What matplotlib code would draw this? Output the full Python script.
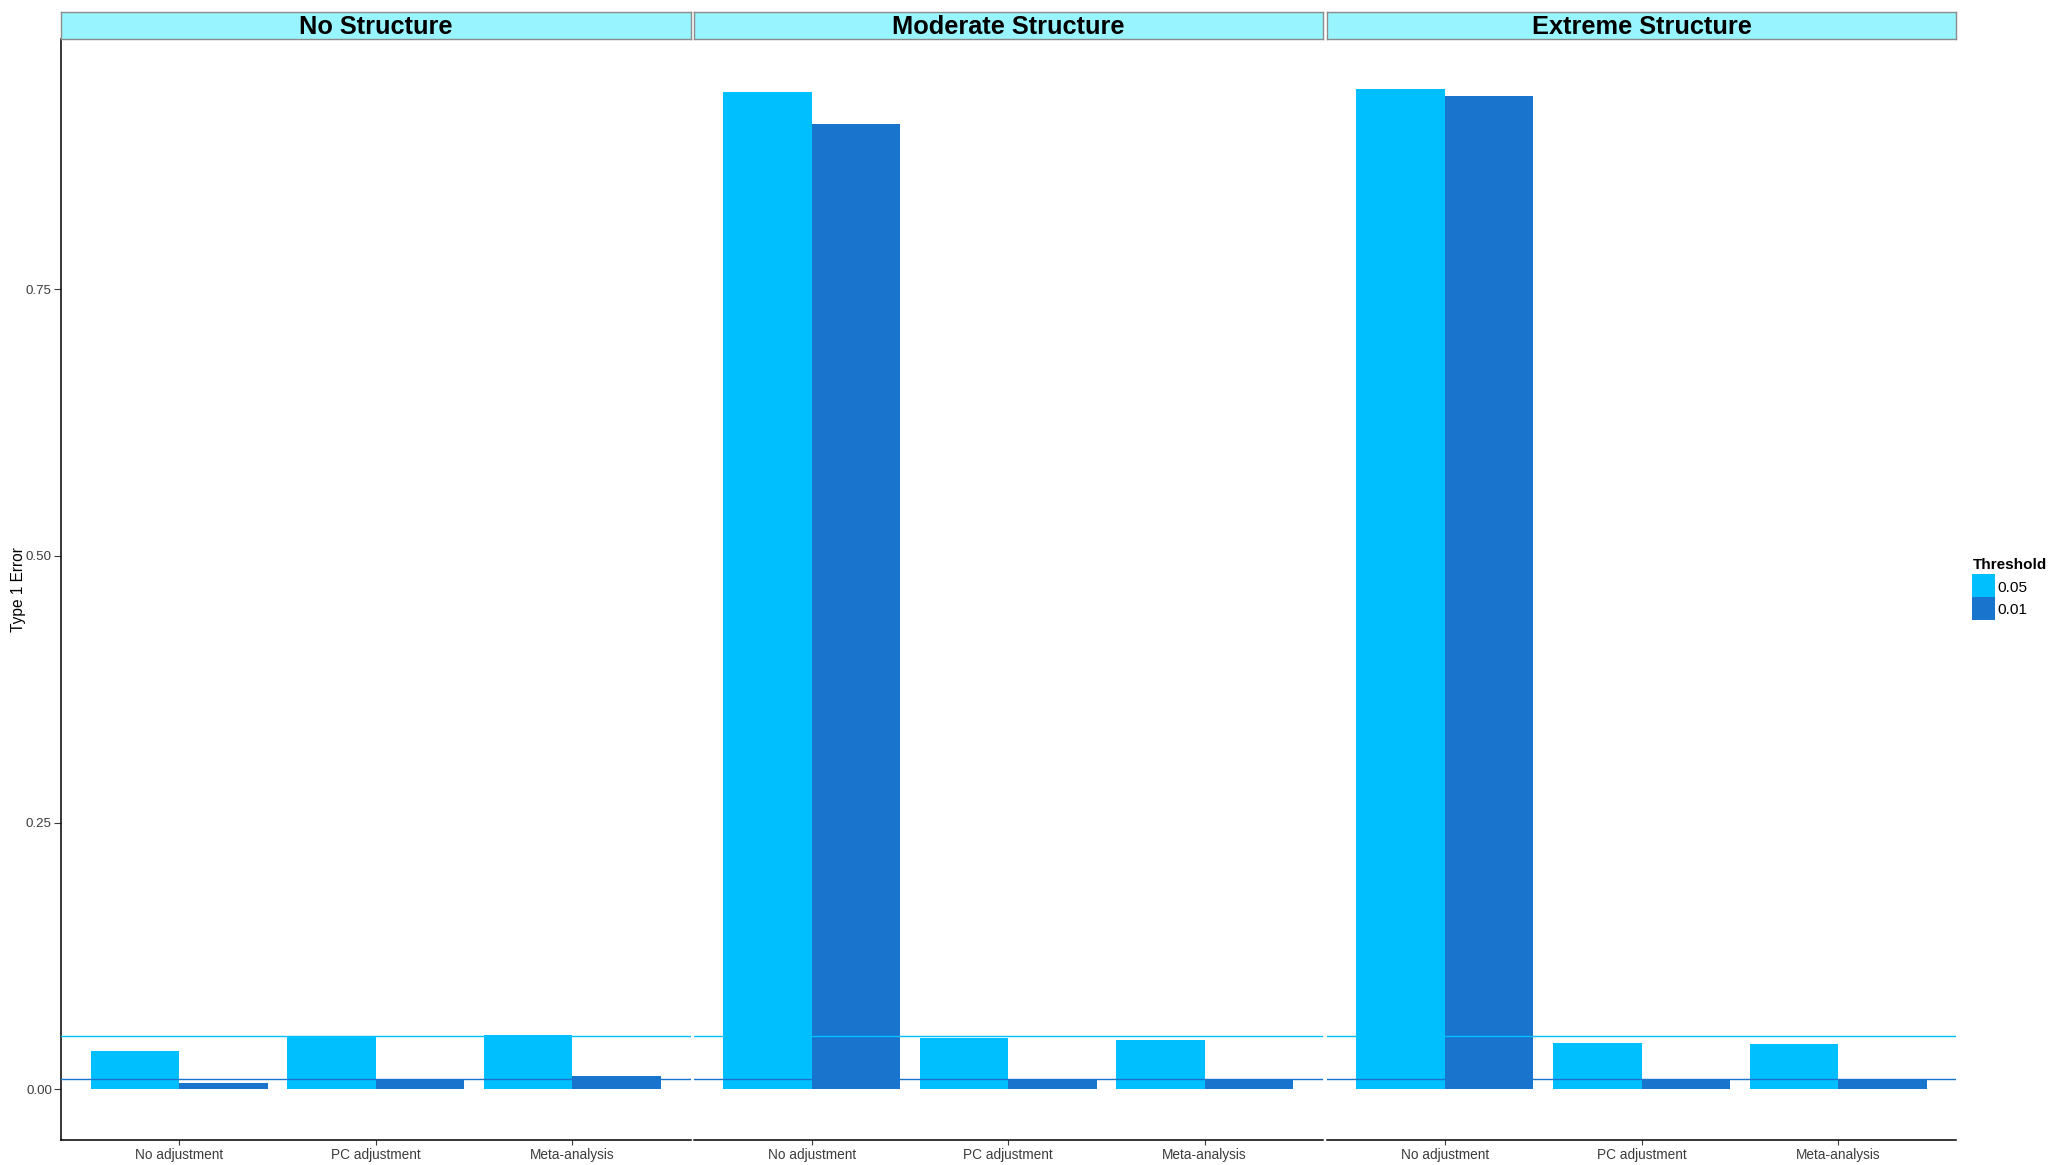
import matplotlib
matplotlib.use("Agg")
import matplotlib.pyplot as plt
from matplotlib.patches import Rectangle
import numpy as np

plt.rcParams['font.family'] = ['Liberation Sans', 'DejaVu Sans']

# ---- data -------------------------------------------------------------
structures = ["No Structure", "Moderate Structure", "Extreme Structure"]
methods = ["No adjustment", "PC adjustment", "Meta-analysis"]
thresholds = ["0.05", "0.01"]
threshold_values = [0.05, 0.01]

# Type 1 error per method, one list per structure scenario
err_005_none = [0.036, 0.049, 0.051]
err_001_none = [0.0063, 0.0098, 0.0122]
err_005_moderate = [0.935, 0.048, 0.046]
err_001_moderate = [0.905, 0.0095, 0.0095]
err_005_extreme = [0.938, 0.044, 0.043]
err_001_extreme = [0.931, 0.0084, 0.0084]

panel_data = [
    (err_005_none, err_001_none),
    (err_005_moderate, err_001_moderate),
    (err_005_extreme, err_001_extreme),
]

y_ticks = [0.0, 0.25, 0.50, 0.75]
y_tick_labels = ["0.00", "0.25", "0.50", "0.75"]

# ---- style ------------------------------------------------------------
colors = ["#00BFFF", "#1874CD"]
strip_fill = "#98F5FF"
text_grey = "#3C3C3C"

W, H = 2053, 1165
fig = plt.figure(figsize=(W / 100, H / 100), dpi=100)

panel_x = [(61, 690.5), (694, 1322.5), (1327, 1956)]
top_px, bottom_px = 38.5, 1139.5
strip_top = 12

all_vals = [v for pair in panel_data for series in pair for v in series]
ymax = max(all_vals)
ylim = (-0.05 * ymax, 1.05 * ymax)

bar_w = 0.45
x = np.arange(1, len(methods) + 1)

for i, (title, (x0, x1)) in enumerate(zip(structures, panel_x)):
    ax = fig.add_axes([x0 / W, 1 - bottom_px / H, (x1 - x0) / W, (bottom_px - top_px) / H])
    s05, s01 = panel_data[i]
    ax.bar(x - bar_w / 2, s05, width=bar_w, color=colors[0], linewidth=0, zorder=2)
    ax.bar(x + bar_w / 2, s01, width=bar_w, color=colors[1], linewidth=0, zorder=2)
    for tv, c in zip(threshold_values, colors):
        ax.axhline(tv, color=c, linewidth=1.0, zorder=3)

    ax.set_xlim(0.4, 3.6)
    ax.set_ylim(*ylim)
    ax.set_xticks(x)
    ax.set_xticklabels(methods, fontsize=9.8, color=text_grey)
    ax.tick_params(axis='x', length=3.5, width=0.8, pad=2.5, colors=text_grey, labelcolor=text_grey)
    for side in ["top", "right"]:
        ax.spines[side].set_visible(False)
    ax.spines["bottom"].set_linewidth(1.1)
    ax.spines["bottom"].set_color("black")
    if i == 0:
        ax.set_yticks(y_ticks)
        ax.set_yticklabels(y_tick_labels, fontsize=9.6, color=text_grey)
        ax.tick_params(axis='y', length=5, width=0.8, pad=1.5, colors=text_grey, labelcolor=text_grey)
        ax.spines["left"].set_linewidth(1.1)
        ax.spines["left"].set_color("black")
    else:
        ax.spines["left"].set_visible(False)
        ax.set_yticks([])
    ax.set_facecolor("white")

    # facet strip
    sax = fig.add_axes([x0 / W, 1 - top_px / H, (x1 - x0) / W, (top_px - strip_top) / H])
    sax.set_xticks([]); sax.set_yticks([])
    sax.set_facecolor(strip_fill)
    for sp in sax.spines.values():
        sp.set_color("#8C8C8C")
        sp.set_linewidth(1.0)
    sax.text(0.5, 0.45, title, transform=sax.transAxes, ha="center", va="center",
             fontsize=18.3, fontweight="bold", color="black")

fig.text(19 / W, 1 - 590 / H, "Type 1 Error", rotation=90, ha="center", va="center",
         fontsize=11.2, color="black")

# legend
fig.text(1973 / W, 1 - 565 / H, "Threshold", ha="left", va="center",
         fontsize=11, fontweight="bold", color="black")
key_y = [574, 597]
for ky, c, lab in zip(key_y, colors, thresholds):
    fig.patches.append(Rectangle((1972 / W, 1 - (ky + 23) / H), 22.5 / W, 23 / H,
                                 transform=fig.transFigure, facecolor=c, edgecolor="none"))
    fig.text(1997.5 / W, 1 - (ky + 13.5) / H, lab, ha="left", va="center",
             fontsize=11.1, color="black")

fig.savefig("out.png", dpi=100, facecolor="white")
